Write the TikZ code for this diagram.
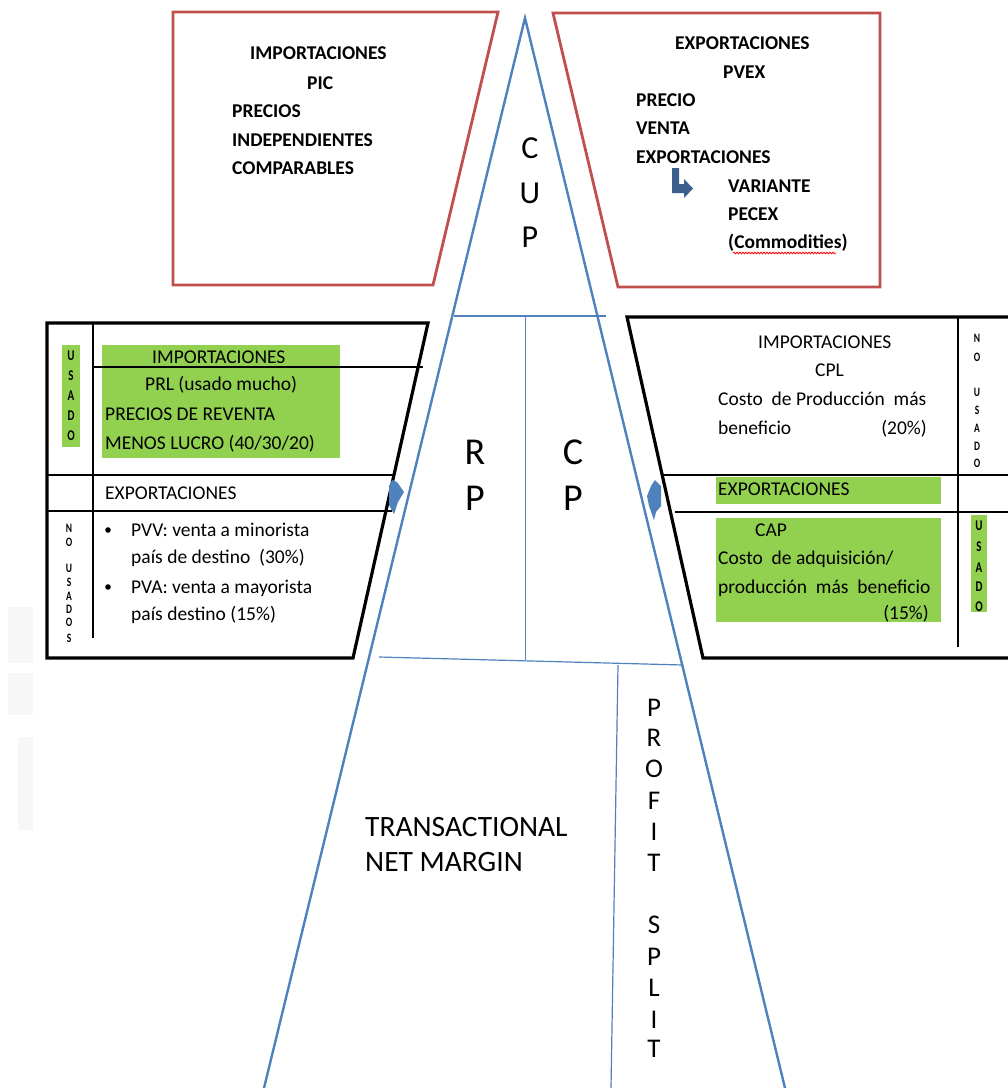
\documentclass[tikz,border=0pt]{standalone}
\usepackage{fontspec}
\usepackage{graphicx}
\setmainfont{Carlito}
\usetikzlibrary{decorations.pathmorphing}
\definecolor{redbox}{HTML}{C0504D}
\definecolor{bluel}{HTML}{4F81BD}
\definecolor{greenf}{HTML}{92D050}
\definecolor{darkblue}{HTML}{3C5F8E}
\newcommand{\tallchar}[1]{\scalebox{1}[1.35]{#1}}
\begin{document}
\begin{tikzpicture}[x=1pt,y=-1pt,
  redframe/.style={draw=redbox, line width=2.8pt, line join=miter},
  blackframe/.style={draw=black, line width=3.2pt, line join=miter},
  thinblack/.style={draw=black, line width=1.3pt},
  bluemain/.style={draw=bluel, line width=2.4pt},
  bluethin/.style={draw=bluel, line width=1.2pt},
  greenbox/.style={fill=greenf},
  tb/.style={font=\fontsize{19.5}{24}\selectfont\bfseries, inner sep=0pt, anchor=base west},
  tr/.style={font=\fontsize{19.5}{24}\selectfont, inner sep=0pt, anchor=base west},
  tinyl/.style={font=\fontsize{11}{12}\selectfont\bfseries, inner sep=0pt, anchor=center},
  tinys/.style={font=\fontsize{9.5}{10}\selectfont\bfseries, inner sep=0pt, anchor=center},
  bigcup/.style={font=\fontsize{32}{36}\selectfont, inner sep=0pt, anchor=center},
  bigrp/.style={font=\fontsize{38}{42}\selectfont, inner sep=0pt, anchor=center},
  mid/.style={font=\fontsize{29.5}{34}\selectfont, inner sep=0pt, anchor=base west},
  ps/.style={font=\fontsize{27}{30}\selectfont, inner sep=0pt, anchor=center}
]
\useasboundingbox (0,0) rectangle (1008,1088);
\fill[white] (0,0) rectangle (1008,1088);

% faint artifacts on the left edge
\fill[black!3] (8,607) rectangle (33,663);
\fill[black!3] (8,673) rectangle (33,715);
\fill[black!3] (18,737) rectangle (33,830);

% top red boxes
\draw[redframe] (173,12) -- (498,12) -- (433,285) -- (173,285) -- cycle;
\draw[redframe] (553,13) -- (880,13) -- (880,287) -- (618,287) -- cycle;

% main blue triangle
\coordinate (apex) at (525,18);
\coordinate (bl) at (264,1088);
\coordinate (br) at (785,1088);
\draw[bluemain, line join=miter] (bl) -- (apex) -- (br);
\draw[bluethin] (454,316) -- (606,316);
\draw[bluethin] (525.5,316) -- (525.5,660);
\draw[bluethin] (379,657) -- (683,665);
\draw[bluethin] (618,665) -- (611,1088);

% left black box
\fill[greenbox] (62,345) rectangle (80,447);
\fill[greenbox] (102,345) rectangle (340,458);
\draw[blackframe] (47,323) -- (428,323) -- (353,658) -- (47,658) -- cycle;
\draw[thinblack] (93,323) -- (93,638);
\draw[thinblack] (93,367) -- (423,367);
\draw[thinblack] (47,475) -- (393,475);
\draw[thinblack] (47,511) -- (392,511);

% right black box
\fill[greenbox] (716,477) rectangle (941,504);
\fill[greenbox] (716,518) rectangle (941,622);
\fill[greenbox] (971,515) rectangle (987,612);
\draw[blackframe] (1008,317) -- (627,317) -- (703,658) -- (1008,658);
\draw[thinblack] (958,317) -- (958,647);
\draw[thinblack] (663,475) -- (1008,475);
\draw[thinblack] (675,512) -- (1008,512);

% small blue block arrows
\fill[bluel] (392,480) -- (397,482) -- (404,492) -- (398,502) -- (394,514) -- (389,505) -- (389,486) -- cycle;
\fill[bluel] (655,480) -- (661,486) -- (661,506) -- (656,512) -- (654,520) -- (649,506) -- (647,496) -- (651,486) -- cycle;

% bent arrow
\fill[darkblue] (672,168) -- (679,168) -- (679,184) -- (684,184) -- (684,179) -- (693,188.5) -- (684,198) -- (684,193) -- (672,193) -- cycle;

% top-left text
\node[tb] (tl1) at (250,59) {IMPORTACIONES};
\node[tb] (tl2) at (307,89) {PIC};
\node[tb] (tl3) at (232,117) {PRECIOS};
\node[tb] (tl4) at (232,146) {INDEPENDIENTES};
\node[tb] (tl5) at (232,174) {COMPARABLES};

% top-right text
\node[tb] (tr1) at (675,49) {EXPORTACIONES};
\node[tb] (tr2) at (723,78) {PVEX};
\node[tb] (tr3) at (636,106) {PRECIO};
\node[tb] (tr4) at (636,134) {VENTA};
\node[tb] (tr5) at (636,163) {EXPORTACIONES};
\node[tb] (tr6) at (728,192) {VARIANTE};
\node[tb] (tr7) at (728,220) {PECEX};
\node[tb] (tr8) at (728,248) {(Commodities)};
\draw[red, line width=0.8pt, decorate, decoration={snake, amplitude=0.8pt, segment length=3pt}] (733,253) -- (836,253);

% CUP
\node[bigcup] (c1) at (530,148) {C};
\node[bigcup] (c2) at (530,193) {U};
\node[bigcup] (c3) at (530,237) {P};

% RP / CP
\node[bigrp] (r1) at (475,452) {R};
\node[bigrp] (r2) at (475,498) {P};
\node[bigrp] (p1) at (573,452) {C};
\node[bigrp] (p2) at (573,498) {P};

% middle-left text
\node[tr] (ml1) at (152,363) {IMPORTACIONES};
\node[tr] (ml2) at (145,390) {PRL (usado mucho)};
\node[tr] (ml3) at (105,420) {PRECIOS DE REVENTA};
\node[tr] (ml4) at (105,449) {MENOS LUCRO (40/30/20)};
\node[tr] (ml5) at (105,499) {EXPORTACIONES};
\fill (108,530) circle (2.8);
\fill (108,587) circle (2.8);
\node[tr] (ml6) at (131,536) {PVV: venta a minorista};
\node[tr] (ml7) at (131,563) {país de destino~~(30\%)};
\node[tr] (ml8) at (131,593) {PVA: venta a mayorista};
\node[tr] (ml9) at (131,620) {país destino (15\%)};

\node[tinyl] (lu1) at (71,356) {\tallchar{U}};
\node[tinyl] (lu2) at (71,376) {\tallchar{S}};
\node[tinyl] (lu3) at (71,396) {\tallchar{A}};
\node[tinyl] (lu4) at (71,416) {\tallchar{D}};
\node[tinyl] (lu5) at (71,436) {\tallchar{O}};

\node[tinys] (ln1) at (69,528) {\tallchar{N}};
\node[tinys] (ln2) at (69,542) {\tallchar{O}};
\node[tinys] (ln3) at (69,568) {\tallchar{U}};
\node[tinys] (ln4) at (69,582) {\tallchar{S}};
\node[tinys] (ln5) at (69,596) {\tallchar{A}};
\node[tinys] (ln6) at (69,609) {\tallchar{D}};
\node[tinys] (ln7) at (69,622) {\tallchar{O}};
\node[tinys] (ln8) at (69,638) {\tallchar{S}};

% middle-right text
\node[tr] (mr1) at (758,348) {IMPORTACIONES};
\node[tr] (mr2) at (815,376) {CPL};
\node[tr] (mr3) at (718,405) {Costo~~de Producción~~más};
\node[tr] (mr4) at (718,434) {beneficio};
\node[tr, anchor=base east] (mr5) at (927,434) {(20\%)};
\node[tr] (mr6) at (718,495) {EXPORTACIONES};
\node[tr] (mr7) at (755,536) {CAP};
\node[tr] (mr8) at (718,564) {Costo~~de adquisición/};
\node[tr] (mr9) at (718,593) {producción~~más~~beneficio};
\node[tr, anchor=base east] (mr10) at (929,619) {(15\%)};

\node[tinys] (rn1) at (977,338) {\tallchar{N}};
\node[tinys] (rn2) at (977,357) {\tallchar{O}};
\node[tinys] (rn3) at (977,392) {\tallchar{U}};
\node[tinys] (rn4) at (977,410) {\tallchar{S}};
\node[tinys] (rn5) at (977,428) {\tallchar{A}};
\node[tinys] (rn6) at (977,446) {\tallchar{D}};
\node[tinys] (rn7) at (977,463) {\tallchar{O}};

\node[tinyl] (ru1) at (979,526) {\tallchar{U}};
\node[tinyl] (ru2) at (979,547) {\tallchar{S}};
\node[tinyl] (ru3) at (979,568) {\tallchar{A}};
\node[tinyl] (ru4) at (979,587) {\tallchar{D}};
\node[tinyl] (ru5) at (979,607) {\tallchar{O}};

% bottom texts
\node[mid] (tn1) at (365,836) {TRANSACTIONAL};
\node[mid] (tn2) at (365,871) {NET MARGIN};

\node[ps] (ps1) at (654,708) {P};
\node[ps] (ps2) at (654,738) {R};
\node[ps] (ps3) at (654,769) {O};
\node[ps] (ps4) at (654,801) {F};
\node[ps] (ps5) at (654,832) {I};
\node[ps] (ps6) at (654,863) {T};
\node[ps] (ps7) at (654,925) {S};
\node[ps] (ps8) at (654,957) {P};
\node[ps] (ps9) at (654,988) {L};
\node[ps] (ps10) at (654,1020) {I};
\node[ps] (ps11) at (654,1049) {T};
\end{tikzpicture}
\end{document}
